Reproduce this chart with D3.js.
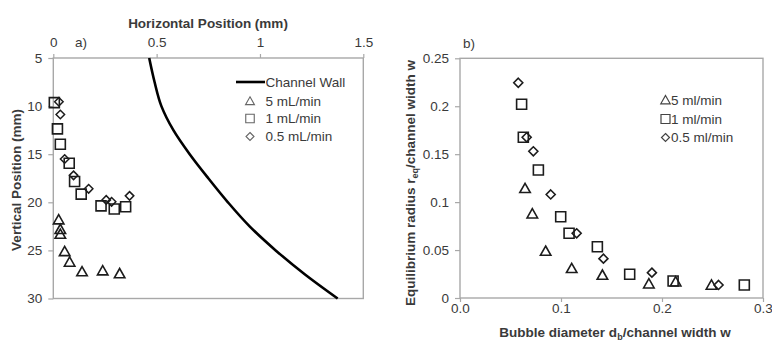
<!DOCTYPE html>
<html><head><meta charset="utf-8">
<script src="https://cdn.jsdelivr.net/npm/d3@7"></script>
<style>
html,body{margin:0;padding:0;background:#fff;}
svg{display:block;font-family:"Liberation Sans",Arial,sans-serif;}
</style></head>
<body><svg id="c" width="772" height="342"></svg>
<script>
// ---- Panel a) data ----
const wallY = [5, 7.5, 10, 12.5, 15, 17.5, 20, 22.5, 25, 27.5, 30];
const wallX = [0.464, 0.490, 0.523, 0.581, 0.660, 0.750, 0.845, 0.950, 1.076, 1.218, 1.376];
const a5X = [0.026, 0.034, 0.034, 0.055, 0.079, 0.139, 0.239, 0.321];
const a5Y = [21.8, 22.8, 23.3, 25.1, 26.2, 27.2, 27.1, 27.4];
const a1X = [0.005, 0.020, 0.034, 0.077, 0.103, 0.135, 0.231, 0.295, 0.350];
const a1Y = [9.64, 12.37, 13.96, 15.94, 17.84, 19.15, 20.37, 20.70, 20.47];
const a05X = [0.027, 0.034, 0.055, 0.098, 0.171, 0.256, 0.282, 0.369];
const a05Y = [9.55, 10.87, 15.5, 17.2, 18.6, 19.75, 19.95, 19.33];
const aXTicks = [0, 0.5, 1, 1.5];
const aYTicks = [5, 10, 15, 20, 25, 30];
const aLegend = ["Channel Wall", "5 mL/min", "1 mL/min", "0.5 mL/min"];

// ---- Panel b) data ----
const b5X = [0.0644, 0.0716, 0.0848, 0.1106, 0.141, 0.187, 0.2135, 0.249];
const b5Y = [0.1144, 0.0879, 0.049, 0.031, 0.024, 0.0149, 0.017, 0.0136];
const b1X = [0.061, 0.0627, 0.0776, 0.0997, 0.108, 0.136, 0.168, 0.211, 0.2815];
const b1Y = [0.202, 0.1676, 0.1335, 0.0848, 0.0675, 0.0535, 0.0247, 0.0177, 0.0136];
const b05X = [0.0577, 0.066, 0.0726, 0.0898, 0.1155, 0.142, 0.19, 0.256];
const b05Y = [0.2245, 0.1676, 0.153, 0.108, 0.0675, 0.041, 0.0264, 0.0136];
const bXTicks = [0, 0.1, 0.2, 0.3];
const bYTicks = [0, 0.05, 0.1, 0.15, 0.2, 0.25];
const bLegend = ["5 ml/min", "1 ml/min", "0.5 ml/min"];

const svg = d3.select("#c");
const TXT = "#3a3a3a", GRID = "#a8a8a8", MK = "#1c1c1c";
const FS = 13.5;

function shape(type, s) {
  const h = s / 2;
  if (type === "tri") return `M0,${-h}L${h*1.05},${h*0.85}L${-h*1.05},${h*0.85}Z`;
  if (type === "sq") return `M${-h},${-h}H${h}V${h}H${-h}Z`;
  return `M0,${-h}L${h},0L0,${h}L${-h},0Z`;
}
function marks(g, xs, ys, X, Y, type, s, color, sw) {
  g.append("g").selectAll("path").data(xs.map((d, i) => [d, ys[i]])).join("path")
    .attr("transform", d => `translate(${X(d[0])},${Y(d[1])})`)
    .attr("d", shape(type, s)).attr("fill", "none")
    .attr("stroke", color).attr("stroke-width", sw);
}
function styleAxis(g) {
  g.select(".domain").remove();
  g.selectAll("line").attr("stroke", GRID).attr("stroke-width", 1.2);
  g.selectAll("text").attr("fill", TXT).attr("font-size", FS).attr("font-family", "Liberation Sans, Arial, sans-serif");
}

// ===== Panel a =====
const xA = d3.scaleLinear().domain([0, 1.5]).range([53.3, 363.3]);
const yA = d3.scaleLinear().domain([5, 30]).range([58, 298.5]);
const ga = svg.append("g");
ga.append("g").attr("transform", `translate(0,${yA(5)})`)
  .call(d3.axisTop(xA).tickValues(aXTicks).tickSize(4).tickPadding(7).tickFormat(d => String(d)))
  .call(styleAxis);
ga.append("g").attr("transform", `translate(${xA(0)},0)`)
  .call(d3.axisLeft(yA).tickValues(aYTicks).tickSize(5).tickPadding(6))
  .call(styleAxis);
ga.append("rect").attr("x", xA(0)).attr("y", yA(5)).attr("width", xA(1.5) - xA(0)).attr("height", yA(30) - yA(5))
  .attr("fill", "none").attr("stroke", GRID).attr("stroke-width", 1.4);
ga.append("path").datum(wallY.map((y, i) => [wallX[i], y]))
  .attr("d", d3.line().x(d => xA(d[0])).y(d => yA(d[1])).curve(d3.curveMonotoneY))
  .attr("fill", "none").attr("stroke", "#000").attr("stroke-width", 2.6);
marks(ga, a5X, a5Y, xA, yA, "tri", 10, MK, 1.6);
marks(ga, a1X, a1Y, xA, yA, "sq", 10, MK, 1.6);
marks(ga, a05X, a05Y, xA, yA, "dia", 8.5, MK, 1.5);
ga.append("text").attr("x", 208).attr("y", 28).attr("text-anchor", "middle")
  .attr("font-size", 13.5).attr("font-weight", "bold").attr("fill", TXT).text("Horizontal Position (mm)");
ga.append("text").attr("transform", "translate(21,180) rotate(-90)").attr("text-anchor", "middle")
  .attr("font-size", 13.5).attr("font-weight", "bold").attr("fill", TXT).text("Vertical Position (mm)");
ga.append("text").attr("x", 75).attr("y", 46.5).attr("font-size", FS).attr("fill", TXT).text("a)");
// legend a
const laY = [82, 101, 118.5, 136.5];
ga.append("line").attr("x1", 236).attr("x2", 265).attr("y1", laY[0]).attr("y2", laY[0])
  .attr("stroke", "#000").attr("stroke-width", 2.6);
const laTypes = [null, "tri", "sq", "dia"];
aLegend.forEach((t, i) => {
  if (i > 0) ga.append("path").attr("transform", `translate(250,${laY[i]})`).attr("d", shape(laTypes[i], i === 3 ? 8 : 8.5))
    .attr("fill", "none").attr("stroke", "#666").attr("stroke-width", 1.1);
  ga.append("text").attr("x", 265.5).attr("y", laY[i] + 4.8).attr("font-size", FS).attr("fill", TXT).text(t);
});

// ===== Panel b =====
const xB = d3.scaleLinear().domain([0, 0.3]).range([460, 763]);
const yB = d3.scaleLinear().domain([0, 0.25]).range([298, 58.3]);
const gb = svg.append("g");
gb.append("g").attr("transform", `translate(0,${yB(0)})`)
  .call(d3.axisBottom(xB).tickValues(bXTicks).tickSize(4).tickPadding(1.5).tickFormat(d3.format(".1f")))
  .call(styleAxis);
gb.append("g").attr("transform", `translate(${xB(0)},0)`)
  .call(d3.axisLeft(yB).tickValues(bYTicks).tickSize(5).tickPadding(6).tickFormat(d => String(+d.toFixed(2))))
  .call(styleAxis);
gb.append("rect").attr("x", xB(0)).attr("y", yB(0.25)).attr("width", xB(0.3) - xB(0)).attr("height", yB(0) - yB(0.25))
  .attr("fill", "none").attr("stroke", GRID).attr("stroke-width", 1.4);
marks(gb, b5X, b5Y, xB, yB, "tri", 10, MK, 1.6);
marks(gb, b1X, b1Y, xB, yB, "sq", 10, MK, 1.6);
marks(gb, b05X, b05Y, xB, yB, "dia", 9, MK, 1.6);
gb.append("text").attr("x", 463).attr("y", 47.5).attr("font-size", FS).attr("fill", TXT).text("b)");
const xt = gb.append("text").attr("x", 615).attr("y", 337).attr("text-anchor", "middle")
  .attr("font-size", 13.5).attr("font-weight", "bold").attr("fill", TXT);
xt.append("tspan").text("Bubble diameter d");
xt.append("tspan").attr("font-size", 9).attr("dy", 2.5).text("b");
xt.append("tspan").attr("dy", -2.5).text("/channel width w");
const yt = gb.append("text").attr("transform", "translate(415,183) rotate(-90)").attr("text-anchor", "middle")
  .attr("font-size", 13.5).attr("font-weight", "bold").attr("fill", TXT);
yt.append("tspan").text("Equilibrium radius r");
yt.append("tspan").attr("font-size", 9).attr("dy", 3).text("eq");
yt.append("tspan").attr("dy", -3).text("/channel width w");
// legend b
const lbY = [100, 119, 137.5];
const lbTypes = ["tri", "sq", "dia"];
bLegend.forEach((t, i) => {
  gb.append("path").attr("transform", `translate(665.5,${lbY[i]})`).attr("d", shape(lbTypes[i], i === 2 ? 8 : 9))
    .attr("fill", "none").attr("stroke", "#444").attr("stroke-width", 1.2);
  gb.append("text").attr("x", 671).attr("y", lbY[i] + 4.8).attr("font-size", FS).attr("fill", TXT).text(t);
});
</script></body></html>
